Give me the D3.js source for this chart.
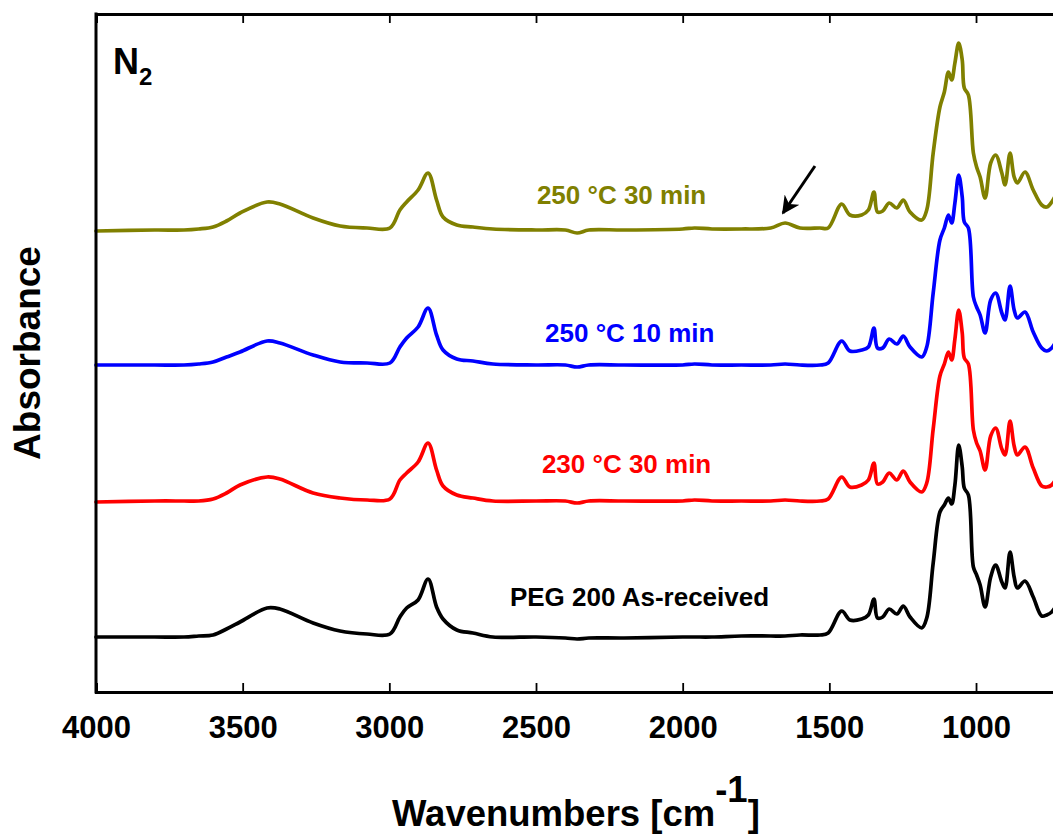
<!DOCTYPE html>
<html>
<head>
<meta charset="utf-8">
<title>FTIR PEG 200 N2</title>
<style>
body { margin:0; background:#fff; }
svg { display:block; }
text { font-family:"Liberation Sans", Arial, sans-serif; font-weight:bold; }
</style>
</head>
<body>
<svg width="1053" height="834"></svg>
<script src="https://d3js.org/d3.v7.min.js"></script>
<script>
// wavenumbers (cm-1) shared by all four spectra
var wavenumbers = [4000, 3800, 3700, 3650, 3601, 3555, 3509, 3417, 3373, 3260, 3168, 3076, 2998,
  2964, 2941, 2902, 2868, 2839, 2817, 2770, 2715, 2647, 2500,
  2400, 2360, 2320, 2200, 2000, 1960, 1900, 1800, 1700, 1651,
  1600, 1532, 1504, 1458, 1430, 1390, 1367, 1348, 1336, 1318,
  1296, 1270, 1248, 1225, 1185, 1168, 1146, 1123, 1108, 1094,
  1083, 1072, 1059, 1047, 1040, 1026, 1009, 998, 986, 969,
  950, 933, 912, 901, 884, 870, 859, 833, 805, 776,
  759, 742, 720];

// absorbance (offset, arbitrary units x1000)
var heat250_30 = [461, 462, 462, 463, 465, 471, 479, 490, 488, 474, 466, 464, 464,
  482, 490, 502, 519, 492, 475, 467, 465, 463, 462,
  462, 459, 462, 462, 463, 464, 463, 463, 464, 469,
  464, 464, 464, 488, 477, 477, 482, 500, 480, 481,
  489, 484, 492, 480, 472, 482, 539, 585, 600, 620,
  612, 629, 649, 632, 604, 597, 539, 525, 515, 494,
  529, 537, 519, 507, 539, 515, 509, 520, 502, 487,
  485, 490, 502];
var heat250_10 = [327, 327, 327, 328, 330, 335, 340, 351, 349, 337, 330, 329, 329,
  345, 354, 365, 384, 357, 342, 333, 331, 328, 327,
  327, 325, 327, 327, 327, 328, 327, 327, 327, 328,
  327, 327, 329, 351, 341, 342, 345, 364, 344, 344,
  353, 348, 356, 345, 335, 345, 399, 452, 464, 477,
  469, 489, 517, 495, 470, 464, 395, 385, 377, 359,
  392, 399, 379, 372, 406, 382, 374, 380, 360, 344,
  341, 344, 355];
var heat230_30 = [190, 191, 191, 191, 193, 199, 207, 215, 213, 199, 194, 192, 193,
  212, 219, 230, 249, 222, 206, 197, 194, 191, 191,
  191, 189, 191, 191, 191, 192, 191, 191, 191, 192,
  191, 191, 193, 215, 205, 207, 212, 229, 208, 210,
  219, 212, 221, 210, 200, 209, 263, 316, 328, 340,
  332, 353, 382, 359, 334, 328, 262, 249, 241, 222,
  256, 264, 243, 237, 271, 246, 237, 245, 224, 206,
  205, 207, 218];
var asReceived = [55, 55, 55, 56, 57, 63, 70, 84, 83, 69, 61, 58, 58,
  75, 84, 92, 113, 85, 73, 62, 59, 55, 55,
  54, 53, 54, 54, 55, 55, 55, 56, 56, 56,
  57, 57, 59, 81, 72, 73, 77, 93, 74, 75,
  83, 78, 86, 75, 64, 74, 129, 180, 187, 194,
  188, 207, 247, 225, 204, 197, 125, 117, 107, 85,
  115, 127, 110, 104, 140, 115, 104, 111, 95, 76,
  77, 80, 90];

var seriesNames = ["250 °C 30 min", "250 °C 10 min", "230 °C 30 min", "PEG 200 As-received"];
var seriesColors = ["#808000", "#0000ff", "#ff0000", "#000000"];
var tickValues = [4000, 3500, 3000, 2500, 2000, 1500, 1000];
// label anchors: [wavenumber, absorbance]
var labelAt = [[2497, 488], [2469, 350], [2480, 219], [2589, 86]];
// arrow pointing at the 1650 band: tail, tip
var arrowAt = [[1549, 526], [1658, 479]];

var series = [heat250_30, heat250_10, heat230_30, asReceived];

var svg = d3.select("svg");
var plotLeft = 96, plotTop = 14, plotBottom = 692;

var x = d3.scaleLinear()
    .domain([4000, 700])
    .range([plotLeft, plotLeft + 3300 * 146.67 / 500]);
var y = d3.scaleLinear()
    .domain([0, 678])
    .range([plotBottom, plotTop]);

var line = d3.line()
    .x(function(d, i) { return x(wavenumbers[i]); })
    .y(function(d) { return y(d); })
    .curve(d3.curveCatmullRom.alpha(0.5));

svg.selectAll("path.spec")
  .data(series)
  .enter().append("path")
    .attr("class", "spec")
    .attr("d", line)
    .attr("fill", "none")
    .attr("stroke", function(d, i) { return seriesColors[i]; })
    .attr("stroke-width", 3.7)
    .attr("stroke-linejoin", "round")
    .attr("stroke-linecap", "round");

// axes: ticks inward, box frame
var xBottom = d3.axisBottom(x).tickValues(tickValues).tickSize(-9).tickPadding(24).tickFormat(d3.format("d"));
var xTop = d3.axisTop(x).tickValues(tickValues).tickSize(-9).tickFormat("");

var gb = svg.append("g").attr("transform", "translate(0," + plotBottom + ")").call(xBottom);
var gt = svg.append("g").attr("transform", "translate(0," + plotTop + ")").call(xTop);
[gb, gt].forEach(function(g) {
  g.select(".domain").attr("stroke", "#000").attr("stroke-width", 3);
  g.selectAll(".tick line").attr("stroke", "#000").attr("stroke-width", 1.8);
});
gb.selectAll(".tick text")
  .attr("font-size", 31)
  .attr("fill", "#000")
  .style("font-family", "'Liberation Sans', Arial, sans-serif")
  .style("font-weight", "bold");

svg.append("line")
    .attr("x1", plotLeft).attr("x2", plotLeft)
    .attr("y1", plotTop - 1.5).attr("y2", plotBottom + 1.5)
    .attr("stroke", "#000").attr("stroke-width", 3);

// series labels
svg.selectAll("text.lab")
  .data(seriesNames)
  .enter().append("text")
    .attr("class", "lab")
    .attr("x", function(d, i) { return x(labelAt[i][0]); })
    .attr("y", function(d, i) { return y(labelAt[i][1]); })
    .attr("font-size", 26)
    .attr("fill", function(d, i) { return seriesColors[i]; })
    .text(function(d) { return d; });

// arrow
svg.append("defs").append("marker")
    .attr("id", "head")
    .attr("viewBox", "0 0 10 10")
    .attr("refX", 9).attr("refY", 5)
    .attr("markerWidth", 6).attr("markerHeight", 6)
    .attr("markerUnits", "strokeWidth")
    .attr("orient", "auto")
  .append("path")
    .attr("d", "M0,0 L10,5 L0,10 L3,5 Z")
    .attr("fill", "#000");
svg.append("line")
    .attr("x1", x(arrowAt[0][0])).attr("y1", y(arrowAt[0][1]))
    .attr("x2", x(arrowAt[1][0])).attr("y2", y(arrowAt[1][1]))
    .attr("stroke", "#000").attr("stroke-width", 3)
    .attr("marker-end", "url(#head)");

// N2
var n2 = svg.append("text").attr("x", 113).attr("y", 74).attr("font-size", 36);
n2.append("tspan").text("N");
n2.append("tspan").attr("font-size", 24).attr("dy", 11).text("2");

// axis titles
var xt = svg.append("text").attr("x", 392).attr("y", 826).attr("font-size", 36.5);
xt.append("tspan").text("Wavenumbers [cm");
xt.append("tspan").attr("dy", -24).text("-1");
xt.append("tspan").attr("dy", 24).text("]");

svg.append("text")
    .attr("transform", "translate(40,353) rotate(-90)")
    .attr("text-anchor", "middle")
    .attr("font-size", 37)
    .text("Absorbance");
</script>
</body>
</html>
